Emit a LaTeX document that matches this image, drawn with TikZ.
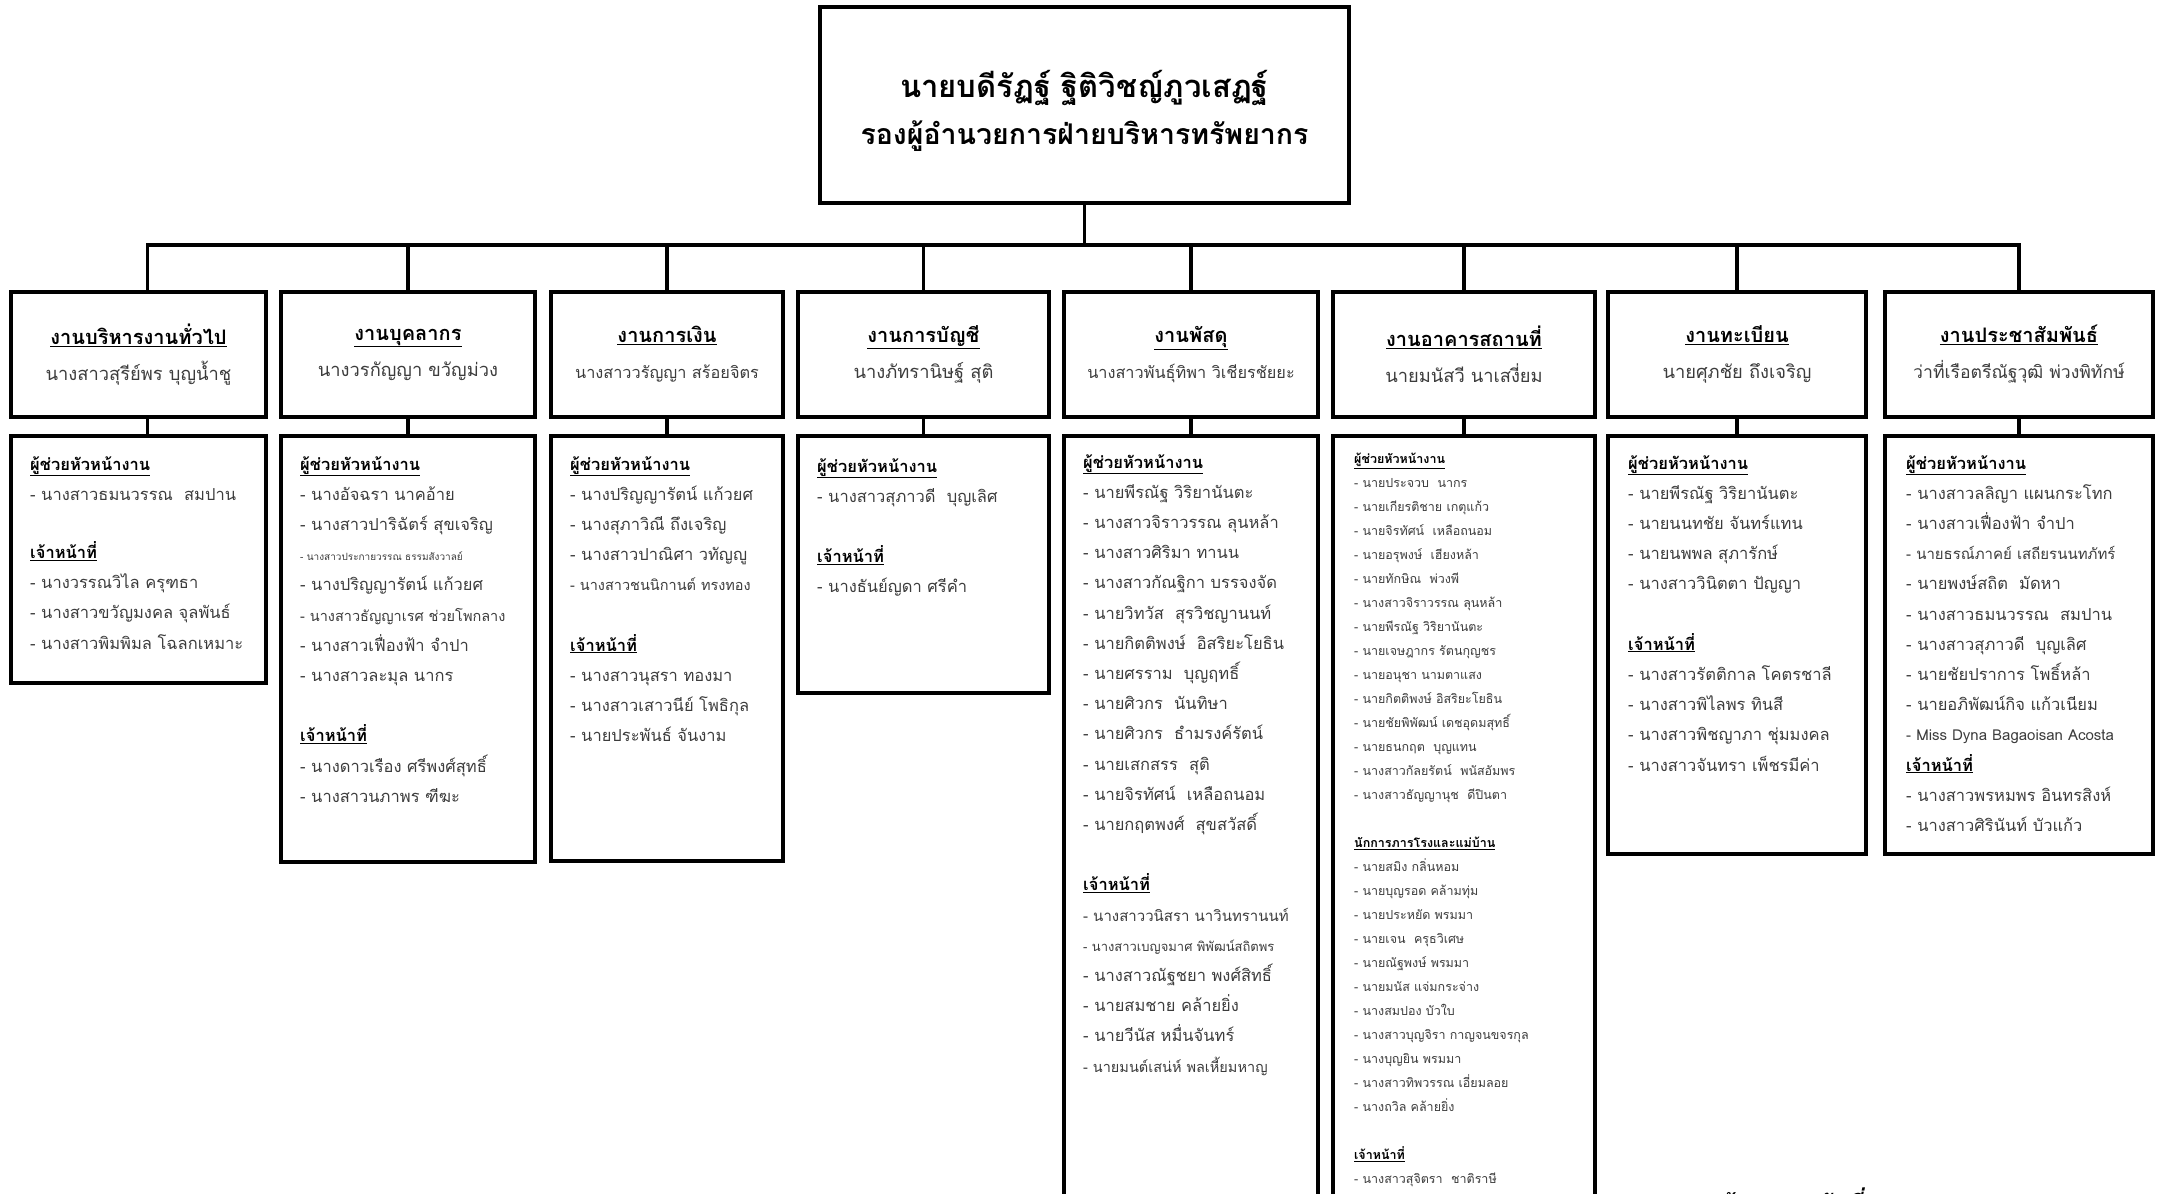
\documentclass[tikz,border=0pt]{standalone}
\usepackage{fontspec}
\setmainfont[Script=Thai]{Loma}
\usetikzlibrary{positioning}
\definecolor{namegray}{RGB}{60,60,60}
\newcommand{\hd}[1]{\textcolor{black}{\bfseries\underline{#1}}}
\newcommand{\nm}[2]{\textcolor{namegray}{\fontsize{#1}{36}\selectfont #2}}
\newcommand{\sz}[2]{{\fontsize{#1}{30}\selectfont #2}}
\tikzset{
  box/.style={draw=black,line width=4pt,rectangle,inner sep=0pt},
  headbox/.style={box,minimum height=125pt,align=center,
    font=\fontsize{20}{36}\selectfont},
  listbox/.style={box},
  list/.style={anchor=north west,inner sep=0pt,align=left,text=namegray,
    font=\fontsize{16.5}{30.2}\selectfont},
  link/.style={line width=3.5pt}
}
\begin{document}
\begin{tikzpicture}[x=1pt,y=-1pt]
\useasboundingbox (0,0) rectangle (2161,1194);
% top
\node[box,minimum width=529pt,minimum height=196pt] (top) at (1084.5,105) {};
\node[align=center,font=\fontsize{31}{47}\selectfont\bfseries] (title)
  at ([yshift=-6pt]top.center)
  {นายบดีรัฏฐ์ ฐิติวิชญ์ภูวเสฏฐ์\\{\fontsize{28.5}{47}\selectfont รองผู้อำนวยการฝ่ายบริหารทรัพยากร}};
% headers
\node[headbox,minimum width=255pt] (h1) at (138.5,354.5)
  {\hd{งานบริหารงานทั่วไป}\\\nm{18.3}{นางสาวสุรีย์พร บุญน้ำชู}};
\node[headbox,minimum width=254pt] (h2) at (408,354.5)
  {\hd{งานบุคลากร}\\\nm{18.3}{นางวรกัญญา ขวัญม่วง}};
\node[headbox,minimum width=232pt] (h3) at (667,354.5)
  {\hd{งานการเงิน}\\\nm{16.3}{นางสาววรัญญา สร้อยจิตร}};
\node[headbox,minimum width=251pt] (h4) at (923.5,354.5)
  {\hd{งานการบัญชี}\\\nm{18.3}{นางภัทรานิษฐ์ สุติ}};
\node[headbox,minimum width=254pt] (h5) at (1191,354.5)
  {\hd{งานพัสดุ}\\\nm{16.3}{นางสาวพันธุ์ทิพา วิเชียรชัยยะ}};
\node[headbox,minimum width=262pt] (h6) at (1464,354.5)
  {\hd{งานอาคารสถานที่}\\\nm{18.3}{นายมนัสวี\hspace{6pt}นาเสงี่ยม}};
\node[headbox,minimum width=258pt] (h7) at (1737,354.5)
  {\hd{งานทะเบียน}\\\nm{18.3}{นายศุภชัย ถึงเจริญ}};
\node[headbox,minimum width=268pt] (h8) at (2019,354.5)
  {\hd{งานประชาสัมพันธ์}\\\nm{17.6}{ว่าที่เรือตรีณัฐวุฒิ พ่วงพิทักษ์}};
% detail boxes
\node[listbox,minimum width=255pt,minimum height=247pt] (d1) at (138.5,559.5) {};
\node[listbox,minimum width=254pt,minimum height=426pt] (d2) at (408,649) {};
\node[listbox,minimum width=232pt,minimum height=425pt] (d3) at (667,648.5) {};
\node[listbox,minimum width=251pt,minimum height=257pt] (d4) at (923.5,564.5) {};
\node[listbox,minimum width=254pt,minimum height=800pt] (d5) at (1191,836) {};
\node[listbox,minimum width=262pt,minimum height=800pt] (d6) at (1464,836) {};
\node[listbox,minimum width=258pt,minimum height=418pt] (d7) at (1737,645) {};
\node[listbox,minimum width=268pt,minimum height=418pt] (d8) at (2019,645) {};
% lines
\coordinate (bus) at (1084.5,245);
\draw[link] (top.south) -- (bus);
\draw[link] ([xshift=9pt]h1.north) |- (bus);
\draw[link] ([xshift=9pt]h1.south) -- ([xshift=9pt]d1.north);
\foreach \i in {2,...,8} {
  \draw[link] (h\i.north) |- (bus);
  \draw[link] (h\i.south) -- (d\i.north);
}
% lists
\node[list] (l1) at ([xshift=21pt,yshift=-22pt]d1.north west) {%
\hd{ผู้ช่วยหัวหน้างาน}\\
- นางสาวธมนวรรณ~~สมปาน\\[28pt]
\hd{เจ้าหน้าที่}\\
- นางวรรณวิไล ครุฑธา\\
- นางสาวขวัญมงคล จุลพันธ์\\
- นางสาวพิมพิมล โฉลกเหมาะ};
\node[list] (l2) at ([xshift=21pt,yshift=-22pt]d2.north west) {%
\hd{ผู้ช่วยหัวหน้างาน}\\
- นางอัจฉรา นาคอ้าย\\
- นางสาวปาริฉัตร์ สุขเจริญ\\
\sz{10}{- นางสาวประกายวรรณ ธรรมสังวาลย์}\\
- นางปริญญารัตน์ แก้วยศ\\
\sz{14.5}{- นางสาวธัญญาเรศ ช่วยโพกลาง}\\
- นางสาวเฟื่องฟ้า จำปา\\
- นางสาวละมุล นากร\\[30.2pt]
\hd{เจ้าหน้าที่}\\
- นางดาวเรือง ศรีพงศ์สุทธิ์\\
- นางสาวนภาพร ฑีฆะ};
\node[list] (l3) at ([xshift=21pt,yshift=-22pt]d3.north west) {%
\hd{ผู้ช่วยหัวหน้างาน}\\
- นางปริญญารัตน์ แก้วยศ\\
- นางสุภาวิณี ถึงเจริญ\\
- นางสาวปาณิศา วทัญญู\\
\sz{14.5}{- นางสาวชนนิกานต์ ทรงทอง}\\[30.2pt]
\hd{เจ้าหน้าที่}\\
- นางสาวนุสรา ทองมา\\
- นางสาวเสาวนีย์ โพธิกุล\\
- นายประพันธ์ จันงาม};
\node[list] (l4) at ([xshift=21pt,yshift=-24pt]d4.north west) {%
\hd{ผู้ช่วยหัวหน้างาน}\\
- นางสาวสุภาวดี~~บุญเลิศ\\[30.2pt]
\hd{เจ้าหน้าที่}\\
- นางธันย์ญดา ศรีคำ};
\node[list] (l5) at ([xshift=21pt,yshift=-20pt]d5.north west) {%
\hd{ผู้ช่วยหัวหน้างาน}\\
- นายพีรณัฐ วิริยานันตะ\\
- นางสาวจิราวรรณ ลุนหล้า\\
- นางสาวศิริมา ทานน\\
- นางสาวกัณฐิกา บรรจงจัด\\
- นายวิทวัส~~สุรวิชญานนท์\\
- นายกิตติพงษ์~~อิสริยะโยธิน\\
- นายศรราม~~บุญฤทธิ์\\
- นายศิวกร~~นันทิษา\\
- นายศิวกร~~ธำมรงค์รัตน์\\
- นายเสกสรร~~สุติ\\
- นายจิรทัศน์~~เหลือถนอม\\
- นายกฤตพงศ์~~สุขสวัสดิ์\\[30.2pt]
\hd{เจ้าหน้าที่}\\
\sz{15}{- นางสาววนิสรา นาวินทรานนท์}\\
\sz{13}{- นางสาวเบญจมาศ พิพัฒน์สถิตพร}\\
- นางสาวณัฐชยา พงศ์สิทธิ์\\
- นายสมชาย คล้ายยิ่ง\\
- นายวีนัส หมื่นจันทร์\\
\sz{14.5}{- นายมนต์เสน่ห์ พลเหี้ยมหาญ}};
\node[list,font=\fontsize{12.5}{24}\selectfont] (l6) at ([xshift=23pt,yshift=-19pt]d6.north west) {%
\hd{ผู้ช่วยหัวหน้างาน}\\
- นายประจวบ~~นากร\\
- นายเกียรติชาย เกตุแก้ว\\
- นายจิรทัศน์~~เหลือถนอม\\
- นายอรุพงษ์~~เฮียงหล้า\\
- นายทักษิณ~~พ่วงพี\\
- นางสาวจิราวรรณ ลุนหล้า\\
- นายพีรณัฐ วิริยานันตะ\\
- นายเจษฎากร รัตนกุญชร\\
- นายอนุชา นามตาแสง\\
- นายกิตติพงษ์ อิสริยะโยธิน\\
- นายชัยพิพัฒน์ เดชอุดมสุทธิ์\\
- นายธนกฤต~~บุญแทน\\
- นางสาวกัลยรัตน์~~พนัสอัมพร\\
- นางสาวธัญญานุช~~ดีปินตา\\[24pt]
\hd{นักการภารโรงและแม่บ้าน}\\
- นายสมิง กลิ่นหอม\\
- นายบุญรอด คล้ามทุ่ม\\
- นายประหยัด พรมมา\\
- นายเจน~~ครุธวิเศษ\\
- นายณัฐพงษ์ พรมมา\\
- นายมนัส แจ่มกระจ่าง\\
- นางสมปอง บัวใบ\\
- นางสาวบุญจิรา กาญจนขจรกุล\\
- นางบุญยิน พรมมา\\
- นางสาวทิพวรรณ เอี่ยมลอย\\
- นางถวิล คล้ายยิ่ง\\[24pt]
\hd{เจ้าหน้าที่}\\
- นางสาวสุจิตรา~~ชาติราษี};
\node[list] (l7) at ([xshift=22pt,yshift=-21pt]d7.north west) {%
\hd{ผู้ช่วยหัวหน้างาน}\\
- นายพีรณัฐ วิริยานันตะ\\
- นายนนทชัย จันทร์แทน\\
- นายนพพล สุภารักษ์\\
- นางสาววินิตตา ปัญญา\\[30.2pt]
\hd{เจ้าหน้าที่}\\
- นางสาวรัตติกาล โคตรชาลี\\
- นางสาวพิไลพร ทินสี\\
- นางสาวพิชญาภา ชุ่มมงคล\\
- นางสาวจันทรา เพ็ชรมีค่า};
\node[list] (l8) at ([xshift=23pt,yshift=-21pt]d8.north west) {%
\hd{ผู้ช่วยหัวหน้างาน}\\
- นางสาวลลิญา แผนกระโทก\\
- นางสาวเฟื่องฟ้า จำปา\\
\sz{15}{- นายธรณ์ภาคย์ เสถียรนนทภัทร์}\\
- นายพงษ์สถิต~~มัดหา\\
- นางสาวธมนวรรณ~~สมปาน\\
- นางสาวสุภาวดี~~บุญเลิศ\\
- นายชัยปราการ โพธิ์หล้า\\
- นายอภิพัฒน์กิจ แก้วเนียม\\
\sz{15}{- Miss Dyna Bagaoisan Acosta}\\
\hd{เจ้าหน้าที่}\\
- นางสาวพรหมพร อินทรสิงห์\\
- นางสาวศิรินันท์ บัวแก้ว};
% footer, cut by the page edge
\node[anchor=base west,inner sep=0pt,font=\fontsize{24}{30}\selectfont\bfseries\itshape] (note) at (1716,1212) {ข้อมูล ณ วันที่};
\end{tikzpicture}
\end{document}
